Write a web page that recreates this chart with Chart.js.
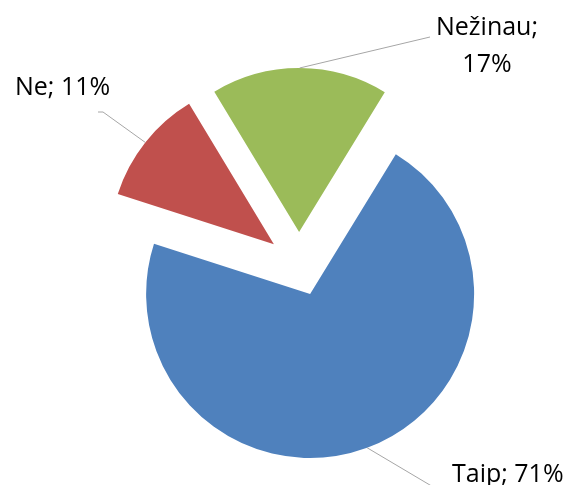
<!DOCTYPE html>
<html>
<head>
<meta charset="utf-8">
<script src="https://cdn.jsdelivr.net/npm/chart.js@4"></script>
<style>
  html, body { margin: 0; padding: 0; background: #fff; }
  #wrap { width: 580px; height: 485px; }
</style>
</head>
<body>
<div id="wrap"><canvas id="pie" width="580" height="485"></canvas></div>
<script>
// data
const labels = ['Taip', 'Ne', 'Nežinau'];
const values = [71.2, 11.4, 17.4];
const colors = ['#4F81BD', '#C0504D', '#9BBB59'];

// every slice is pulled out of the pie by the same distance
const EXPLODE = 32;

// where each label sits and how its leader line bends
const labelLayout = [
  { lines: 1, x: 452, y: 482, align: 'left', path: [[440, 491]] },
  { lines: 1, x: 15, y: 95, align: 'left', path: [[103, 112], [98, 112]] },
  { lines: 2, x: 487, y: 35, align: 'center', path: [[430, 37]] },
];

const explodePlugin = {
  id: 'explode',
  afterDatasetUpdate(chart, args) {
    args.meta.data.forEach(function(arc) {
      const mid = (arc.startAngle + arc.endAngle) / 2;
      arc.x += Math.cos(mid) * EXPLODE;
      arc.y += Math.sin(mid) * EXPLODE;
    });
  }
};

const labelPlugin = {
  id: 'sliceLabels',
  afterDraw(chart) {
    const ctx = chart.ctx;
    const arcs = chart.getDatasetMeta(0).data;
    const total = values.reduce((a, b) => a + b, 0);
    ctx.save();
    arcs.forEach(function(arc, i) {
      const lay = labelLayout[i];
      const mid = (arc.startAngle + arc.endAngle) / 2;
      const sx = arc.x + Math.cos(mid) * arc.outerRadius;
      const sy = arc.y + Math.sin(mid) * arc.outerRadius;
      ctx.strokeStyle = '#a6a6a6';
      ctx.lineWidth = 1;
      ctx.beginPath();
      ctx.moveTo(sx, sy);
      lay.path.forEach(p => ctx.lineTo(p[0], p[1]));
      ctx.stroke();

      const pct = Math.round(values[i] / total * 100) + '%';
      ctx.fillStyle = '#000';
      ctx.font = '25px "Open Sans"';
      ctx.textAlign = lay.align;
      ctx.textBaseline = 'alphabetic';
      if (lay.lines === 2) {
        ctx.fillText(labels[i] + ';', lay.x, lay.y);
        ctx.fillText(pct, lay.x, lay.y + 37);
      } else {
        ctx.fillText(labels[i] + '; ' + pct, lay.x, lay.y);
      }
    });
    ctx.restore();
  }
};

new Chart(document.getElementById('pie'), {
  type: 'pie',
  data: {
    labels: labels,
    datasets: [
      {
        data: values,
        backgroundColor: colors,
        borderWidth: 0,
      },
    ]
  },
  options: {
    responsive: false,
    animation: false,
    rotation: 31.5,
    radius: 164,
    layout: {
      padding: { left: 18, right: 0, top: 43, bottom: 0 }
    },
    plugins: {
      legend: { display: false },
      tooltip: { enabled: false },
    },
  },
  plugins: [explodePlugin, labelPlugin]
});
</script>
</body>
</html>
